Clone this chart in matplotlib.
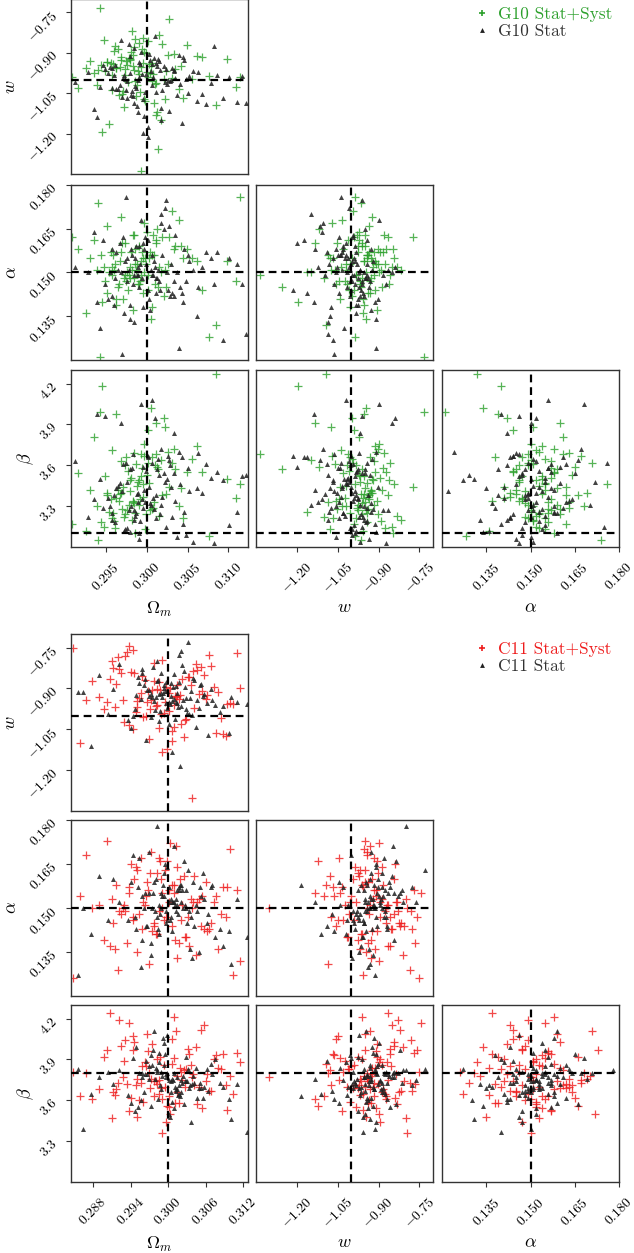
import matplotlib
matplotlib.use("Agg")
import matplotlib.pyplot as plt
from matplotlib.ticker import FixedLocator, FuncFormatter
from matplotlib.lines import Line2D
from matplotlib.transforms import ScaledTranslation

plt.rcParams['mathtext.fontset'] = 'cm'
plt.rcParams['font.family'] = ['cmr10', 'DejaVu Serif']
plt.rcParams['axes.unicode_minus'] = False

# ---------------- DATA ----------------
# G10 Stat+Syst
g10_sys_om = [0.2993, 0.2978, 0.3012, 0.2965, 0.3004, 0.2987, 0.2951, 0.3021, 0.2996, 0.2972,
              0.3035, 0.2983, 0.2958, 0.3008, 0.2991, 0.2944, 0.3017, 0.2969, 0.3001, 0.2986,
              0.3049, 0.2962, 0.2998, 0.2975, 0.3027, 0.2939, 0.3005, 0.2981, 0.2957, 0.3013,
              0.2995, 0.3062, 0.2970, 0.2989, 0.2948, 0.3031, 0.2979, 0.3009, 0.2963, 0.2999,
              0.2916, 0.3024, 0.2984, 0.2954, 0.3003, 0.3076, 0.2968, 0.2992, 0.2935, 0.3015,
              0.2977, 0.3042, 0.2960, 0.2997, 0.2985, 0.3098, 0.2945, 0.3006, 0.2973, 0.3019,
              0.2988, 0.2926, 0.3033, 0.2966, 0.3000, 0.2982, 0.3056, 0.2952, 0.3011, 0.2976,
              0.2994, 0.3109, 0.2941, 0.3026, 0.2971, 0.2990, 0.3002, 0.2959, 0.3085, 0.2980,
              0.2908, 0.3014, 0.2967, 0.2997, 0.3039, 0.2949, 0.2986, 0.3007, 0.2931, 0.3022,
              0.2974, 0.3068, 0.2956, 0.2993, 0.3114, 0.2961, 0.3010, 0.2983, 0.2943, 0.3045]
g10_sys_w = [-0.952, -0.918, -1.013, -0.887, -0.974, -1.061, -0.935, -0.998, -0.843, -1.102,
             -0.961, -0.907, -1.037, -0.979, -0.862, -0.944, -1.148, -0.925, -0.989, -1.005,
             -0.871, -0.958, -1.079, -0.931, -0.773, -1.021, -0.947, -0.896, -0.983, -1.118,
             -0.939, -0.912, -1.052, -0.968, -0.851, -0.993, -0.928, -1.087, -0.955, -0.901,
             -1.029, -0.966, -0.879, -1.164, -0.942, -0.986, -0.915, -1.046, -0.973, -0.834,
             -1.009, -0.949, -0.892, -1.071, -0.962, -0.924, -1.195, -0.937, -0.981, -0.866,
             -1.018, -0.956, -0.903, -1.058, -0.971, -0.819, -0.996, -0.933, -1.132, -0.946,
             -0.884, -1.025, -0.964, -0.909, -1.041, -0.977, -0.857, -0.941, -1.094, -0.921,
             -0.991, -1.256, -0.953, -0.897, -1.034, -0.969, -0.848, -1.003, -0.929, -1.073,
             -0.959, -0.914, -0.936, -1.337, -0.988, -0.875, -1.016, -0.948, -0.732, -1.066]
g10_sys_alpha = [0.154, 0.149, 0.161, 0.145, 0.157, 0.151, 0.166, 0.142, 0.155, 0.148,
                 0.159, 0.137, 0.152, 0.163, 0.146, 0.156, 0.150, 0.169, 0.144, 0.153,
                 0.158, 0.141, 0.155, 0.147, 0.162, 0.151, 0.134, 0.157, 0.149, 0.165,
                 0.143, 0.154, 0.160, 0.146, 0.152, 0.171, 0.148, 0.156, 0.139, 0.153,
                 0.158, 0.145, 0.163, 0.150, 0.155, 0.128, 0.157, 0.147, 0.161, 0.152,
                 0.144, 0.159, 0.151, 0.167, 0.148, 0.154, 0.140, 0.156, 0.149, 0.162,
                 0.153, 0.136, 0.158, 0.146, 0.164, 0.151, 0.155, 0.143, 0.160, 0.150,
                 0.157, 0.147, 0.174, 0.153, 0.141, 0.159, 0.149, 0.156, 0.132, 0.152,
                 0.162, 0.145, 0.154, 0.150, 0.168, 0.147, 0.158, 0.138, 0.155, 0.151,
                 0.160, 0.144, 0.157, 0.149, 0.176, 0.153, 0.146, 0.163, 0.121, 0.155]
g10_sys_beta = [3.52, 3.31, 3.68, 3.42, 3.27, 3.61, 3.38, 3.95, 3.46, 3.22,
                3.57, 3.34, 3.71, 3.29, 3.49, 3.18, 3.64, 3.40, 3.86, 3.25,
                3.55, 3.36, 3.13, 3.66, 3.44, 3.30, 4.02, 3.51, 3.21, 3.59,
                3.37, 3.74, 3.28, 3.48, 3.15, 3.62, 3.41, 3.33, 3.98, 3.24,
                3.54, 3.39, 3.69, 3.26, 3.47, 3.08, 3.63, 3.35, 3.81, 3.23,
                3.56, 3.43, 3.19, 3.67, 3.32, 3.50, 4.18, 3.28, 3.60, 3.38,
                3.45, 3.12, 3.72, 3.34, 3.53, 3.20, 3.65, 3.40, 3.91, 3.27,
                3.58, 3.36, 3.05, 3.70, 3.44, 3.31, 3.62, 3.25, 4.27, 3.49,
                3.17, 3.57, 3.39, 3.76, 3.30, 3.52, 3.10, 3.66, 3.42, 3.88,
                3.24, 3.55, 3.35, 3.68, 3.46, 3.14, 3.60, 3.33, 3.99, 3.21]

# G10 Stat
g10_stat_om = [0.3008, 0.2982, 0.3031, 0.2967, 0.3014, 0.2995, 0.3052, 0.2976, 0.3021, 0.2989,
               0.3063, 0.2958, 0.3003, 0.3037, 0.2971, 0.3011, 0.2984, 0.3079, 0.2949, 0.3017,
               0.2999, 0.3045, 0.2963, 0.3026, 0.2978, 0.3094, 0.2991, 0.3006, 0.2935, 0.3033,
               0.2986, 0.3015, 0.3068, 0.2972, 0.3002, 0.2955, 0.3041, 0.2993, 0.3110, 0.2979,
               0.3019, 0.2961, 0.3028, 0.2997, 0.3057, 0.2943, 0.3009, 0.2983, 0.3035, 0.2969,
               0.3012, 0.3086, 0.2988, 0.3024, 0.2912, 0.3004, 0.2976, 0.3048, 0.2996, 0.3016,
               0.2965, 0.3039, 0.2981, 0.3117, 0.2992, 0.3027, 0.2953, 0.3007, 0.2985, 0.3061,
               0.2974, 0.3013, 0.2998, 0.3043, 0.2928, 0.3022, 0.2990, 0.3072, 0.2960, 0.3010,
               0.2987, 0.3034, 0.2970, 0.3101, 0.3001, 0.2946, 0.3025, 0.2980, 0.3050, 0.2994,
               0.3018, 0.2957, 0.3030, 0.3082, 0.2975, 0.3005, 0.2939, 0.3046, 0.3122, 0.2989]
g10_stat_w = [-0.991, -1.042, -0.957, -1.018, -0.924, -1.073, -0.985, -1.006, -0.948, -1.121,
              -0.972, -1.031, -0.903, -1.058, -0.995, -0.937, -1.087, -1.012, -0.961, -1.149,
              -0.979, -0.914, -1.036, -1.001, -0.866, -1.066, -0.988, -0.942, -1.109, -0.969,
              -1.024, -0.931, -1.052, -0.983, -1.175, -0.953, -1.014, -0.897, -1.081, -0.976,
              -1.039, -0.945, -1.003, -1.133, -0.967, -1.027, -0.919, -1.062, -0.993, -0.851,
              -1.047, -0.981, -1.096, -0.959, -1.010, -0.928, -1.069, -0.998, -1.198, -0.964,
              -1.033, -0.908, -1.055, -0.986, -0.941, -1.116, -0.974, -1.020, -0.882, -1.077,
              -0.996, -0.950, -1.044, -1.161, -0.970, -1.008, -0.935, -1.091, -0.982, -0.838,
              -1.029, -0.962, -1.064, -0.989, -1.214, -0.944, -1.017, -0.911, -1.050, -0.977,
              -1.104, -0.955, -1.002, -0.873, -1.038, -0.968, -1.138, -0.926, -1.085, -0.999]
g10_stat_alpha = [0.149, 0.156, 0.143, 0.160, 0.151, 0.138, 0.154, 0.147, 0.165, 0.152,
                  0.145, 0.158, 0.141, 0.150, 0.162, 0.148, 0.133, 0.155, 0.146, 0.170,
                  0.153, 0.140, 0.157, 0.144, 0.151, 0.127, 0.159, 0.149, 0.164, 0.142,
                  0.155, 0.147, 0.152, 0.136, 0.161, 0.150, 0.145, 0.168, 0.153, 0.139,
                  0.156, 0.148, 0.142, 0.158, 0.151, 0.131, 0.154, 0.146, 0.163, 0.150,
                  0.143, 0.157, 0.149, 0.175, 0.152, 0.137, 0.155, 0.147, 0.160, 0.144,
                  0.151, 0.124, 0.158, 0.146, 0.153, 0.166, 0.141, 0.156, 0.149, 0.135,
                  0.154, 0.148, 0.162, 0.143, 0.150, 0.172, 0.145, 0.157, 0.139, 0.152,
                  0.159, 0.147, 0.122, 0.155, 0.144, 0.161, 0.150, 0.134, 0.156, 0.148,
                  0.167, 0.142, 0.153, 0.146, 0.176, 0.151, 0.140, 0.158, 0.129, 0.149]
g10_stat_beta = [3.36, 3.58, 3.22, 3.47, 3.65, 3.29, 3.41, 3.14, 3.54, 3.33,
                 3.69, 3.25, 3.44, 3.07, 3.61, 3.38, 3.20, 3.51, 3.96, 3.31,
                 3.56, 3.17, 3.43, 3.67, 3.27, 3.49, 3.10, 3.62, 3.35, 3.84,
                 3.23, 3.53, 3.40, 3.12, 3.66, 3.30, 3.46, 4.05, 3.26, 3.57,
                 3.37, 3.18, 3.60, 3.42, 3.04, 3.50, 3.28, 3.68, 3.34, 3.91,
                 3.21, 3.55, 3.39, 3.15, 3.63, 3.32, 3.48, 3.09, 3.59, 3.24,
                 3.45, 3.70, 3.30, 3.52, 3.19, 3.64, 3.36, 4.08, 3.27, 3.43,
                 3.13, 3.57, 3.33, 3.66, 3.22, 3.48, 3.06, 3.61, 3.38, 3.95,
                 3.25, 3.54, 3.41, 3.16, 3.67, 3.29, 3.50, 3.11, 3.58, 3.35,
                 3.72, 3.20, 3.44, 3.03, 3.62, 3.31, 3.98, 3.26, 3.53, 3.40]

# C11 Stat+Syst
c11_sys_om = [0.3002, 0.2958, 0.3041, 0.2931, 0.3017, 0.2986, 0.3073, 0.2912, 0.3009, 0.2969,
              0.3055, 0.2944, 0.2995, 0.3029, 0.2878, 0.3012, 0.2977, 0.3088, 0.2951, 0.3036,
              0.2989, 0.2925, 0.3063, 0.2998, 0.2963, 0.3104, 0.2937, 0.3021, 0.2982, 0.2897,
              0.3047, 0.2972, 0.3006, 0.2916, 0.3080, 0.2991, 0.2948, 0.3032, 0.2859, 0.3014,
              0.2966, 0.3069, 0.2929, 0.3003, 0.2980, 0.3111, 0.2954, 0.3025, 0.2907, 0.3050,
              0.2993, 0.2940, 0.3038, 0.2974, 0.3094, 0.2919, 0.3010, 0.2985, 0.2868, 0.3058,
              0.2960, 0.3019, 0.2934, 0.3077, 0.2996, 0.2950, 0.3044, 0.2889, 0.3007, 0.2978,
              0.3099, 0.2922, 0.3027, 0.2968, 0.3001, 0.2847, 0.3061, 0.2943, 0.3015, 0.2983,
              0.2910, 0.3085, 0.2957, 0.3034, 0.2990, 0.2928, 0.3052, 0.2971, 0.3115, 0.2938,
              0.3023, 0.2902, 0.3066, 0.2964, 0.3011, 0.2946, 0.3092, 0.2987, 0.2915, 0.3040]
c11_sys_w = [-0.917, -0.853, -0.972, -0.781, -0.939, -1.046, -0.893, -0.826, -0.962, -1.087,
             -0.908, -0.759, -0.951, -1.012, -0.874, -0.932, -0.807, -1.068, -0.946, -0.889,
             -0.995, -0.843, -0.925, -1.121, -0.868, -0.956, -0.744, -1.031, -0.902, -0.977,
             -0.832, -0.941, -1.058, -0.882, -0.913, -0.795, -0.986, -0.859, -1.102, -0.928,
             -0.948, -0.817, -1.024, -0.897, -0.965, -0.771, -0.935, -1.079, -0.864, -0.920,
             -0.990, -0.838, -1.301, -0.906, -0.958, -0.786, -1.040, -0.878, -0.944, -0.849,
             -1.004, -0.923, -0.765, -1.063, -0.894, -0.969, -0.812, -0.930, -1.093, -0.871,
             -0.953, -0.827, -1.017, -0.911, -0.981, -0.752, -0.937, -1.050, -0.886, -0.960,
             -0.799, -1.009, -0.915, -0.857, -1.135, -0.942, -0.821, -0.975, -0.899, -1.036,
             -0.866, -0.950, -0.778, -1.002, -0.926, -0.845, -1.073, -0.904, -0.967, -0.835]
c11_sys_alpha = [0.156, 0.143, 0.161, 0.149, 0.138, 0.167, 0.152, 0.145, 0.158, 0.131,
                 0.154, 0.147, 0.163, 0.140, 0.150, 0.171, 0.144, 0.157, 0.135, 0.153,
                 0.160, 0.148, 0.142, 0.166, 0.151, 0.127, 0.155, 0.146, 0.162, 0.139,
                 0.152, 0.169, 0.144, 0.158, 0.136, 0.150, 0.164, 0.147, 0.154, 0.133,
                 0.159, 0.145, 0.151, 0.172, 0.141, 0.156, 0.148, 0.161, 0.137, 0.153,
                 0.146, 0.165, 0.150, 0.142, 0.157, 0.129, 0.155, 0.149, 0.168, 0.143,
                 0.152, 0.160, 0.138, 0.154, 0.147, 0.163, 0.134, 0.151, 0.158, 0.145,
                 0.170, 0.149, 0.140, 0.156, 0.152, 0.126, 0.159, 0.146, 0.164, 0.141,
                 0.153, 0.148, 0.167, 0.137, 0.155, 0.150, 0.144, 0.162, 0.132, 0.157,
                 0.151, 0.173, 0.143, 0.154, 0.139, 0.160, 0.147, 0.166, 0.136, 0.152]
c11_sys_beta = [3.63, 3.85, 3.71, 4.04, 3.58, 3.75, 3.90, 3.66, 4.21, 3.80,
                3.54, 3.97, 3.70, 3.83, 3.61, 4.11, 3.74, 3.94, 3.48, 3.86,
                3.69, 4.00, 3.79, 3.56, 3.88, 3.65, 4.17, 3.81, 3.72, 3.92,
                3.57, 3.76, 4.05, 3.68, 3.84, 3.36, 3.71, 3.98, 3.63, 3.78,
                4.09, 3.67, 3.89, 3.50, 3.74, 3.95, 3.60, 3.82, 4.24, 3.70,
                3.86, 3.62, 3.77, 4.01, 3.53, 3.73, 3.91, 3.65, 3.80, 4.15,
                3.59, 3.84, 3.72, 3.93, 3.44, 3.76, 3.99, 3.68, 3.87, 3.63,
                3.78, 4.19, 3.70, 3.96, 3.55, 3.81, 3.74, 4.07, 3.66, 3.90,
                3.47, 3.83, 3.73, 3.94, 3.61, 3.77, 4.12, 3.69, 3.88, 3.52,
                3.75, 3.97, 3.67, 3.85, 3.58, 4.03, 3.71, 3.92, 3.64, 3.79]

# C11 Stat
c11_stat_om = [0.3005, 0.2983, 0.3021, 0.2967, 0.3011, 0.2994, 0.3046, 0.2958, 0.3029, 0.2988,
               0.3062, 0.2941, 0.3008, 0.3035, 0.2976, 0.3016, 0.2999, 0.3083, 0.2952, 0.3024,
               0.2985, 0.3053, 0.2970, 0.3003, 0.2921, 0.3039, 0.2992, 0.3013, 0.2963, 0.3097,
               0.2980, 0.3027, 0.2947, 0.3009, 0.3058, 0.2973, 0.3018, 0.2996, 0.2864, 0.3032,
               0.2987, 0.3069, 0.2956, 0.3006, 0.3042, 0.2978, 0.3014, 0.2903, 0.3026, 0.2990,
               0.3075, 0.2961, 0.3001, 0.3037, 0.2982, 0.3110, 0.2949, 0.3019, 0.2997, 0.3049,
               0.2969, 0.3010, 0.2889, 0.3031, 0.2986, 0.3064, 0.2954, 0.3007, 0.3023, 0.2975,
               0.3088, 0.2993, 0.2935, 0.3040, 0.3002, 0.2855, 0.3017, 0.2979, 0.3056, 0.2964,
               0.3012, 0.3127, 0.2989, 0.3028, 0.2944, 0.3004, 0.3071, 0.2972, 0.3020, 0.2998,
               0.2912, 0.3044, 0.2984, 0.3015, 0.3101, 0.2959, 0.3033, 0.2995, 0.2877, 0.3051]
c11_stat_w = [-0.928, -0.871, -0.963, -0.904, -1.012, -0.889, -0.944, -0.842, -0.977, -0.915,
              -0.952, -1.047, -0.896, -0.935, -0.823, -0.969, -0.908, -0.986, -0.858, -0.941,
              -1.021, -0.883, -0.926, -0.957, -0.811, -0.998, -0.917, -0.948, -0.866, -1.063,
              -0.932, -0.894, -0.974, -0.848, -0.921, -1.005, -0.877, -0.955, -0.912, -0.731,
              -0.983, -0.901, -0.939, -1.134, -0.869, -0.946, -0.918, -0.993, -0.836, -0.930,
              -0.962, -0.886, -1.031, -0.911, -0.799, -0.951, -0.924, -1.186, -0.875, -0.970,
              -0.907, -0.938, -0.852, -0.989, -0.920, -1.071, -0.881, -0.945, -0.815, -0.933,
              -0.966, -0.898, -1.016, -0.862, -0.949, -0.913, -0.776, -0.980, -0.927, -1.089,
              -0.892, -0.958, -0.845, -0.936, -1.002, -0.879, -0.942, -0.919, -0.764, -0.972,
              -0.903, -1.041, -0.868, -0.954, -0.931, -0.827, -0.995, -0.910, -1.112, -0.887]
c11_stat_alpha = [0.153, 0.147, 0.158, 0.144, 0.151, 0.162, 0.149, 0.139, 0.156, 0.150,
                  0.145, 0.159, 0.152, 0.136, 0.155, 0.148, 0.164, 0.143, 0.157, 0.150,
                  0.141, 0.154, 0.169, 0.146, 0.152, 0.133, 0.158, 0.149, 0.155, 0.142,
                  0.160, 0.151, 0.147, 0.171, 0.153, 0.138, 0.156, 0.145, 0.150, 0.163,
                  0.148, 0.157, 0.130, 0.152, 0.144, 0.159, 0.151, 0.146, 0.166, 0.154,
                  0.140, 0.150, 0.157, 0.147, 0.178, 0.153, 0.143, 0.158, 0.149, 0.135,
                  0.155, 0.152, 0.161, 0.145, 0.151, 0.148, 0.167, 0.142, 0.156, 0.150,
                  0.137, 0.154, 0.146, 0.159, 0.152, 0.127, 0.157, 0.149, 0.162, 0.144,
                  0.153, 0.140, 0.155, 0.150, 0.168, 0.147, 0.158, 0.134, 0.152, 0.146,
                  0.160, 0.151, 0.143, 0.156, 0.131, 0.154, 0.149, 0.165, 0.141, 0.157]
c11_stat_beta = [3.74, 3.81, 3.66, 3.79, 3.70, 3.86, 3.62, 3.77, 3.92, 3.68,
                 3.83, 3.58, 3.75, 3.71, 3.97, 3.64, 3.80, 3.73, 3.55, 3.78,
                 3.88, 3.69, 3.76, 3.48, 3.82, 3.72, 4.06, 3.67, 3.79, 3.61,
                 3.84, 3.74, 3.52, 3.80, 3.70, 3.93, 3.65, 3.77, 3.39, 3.83,
                 3.71, 3.87, 3.60, 3.76, 3.73, 4.11, 3.68, 3.81, 3.57, 3.78,
                 3.90, 3.66, 3.75, 3.44, 3.82, 3.72, 3.99, 3.63, 3.79, 3.69,
                 3.85, 3.54, 3.77, 3.74, 3.95, 3.67, 3.80, 3.59, 3.73, 3.86,
                 3.70, 4.02, 3.64, 3.78, 3.50, 3.83, 3.71, 3.76, 3.62, 3.89,
                 3.68, 3.37, 3.81, 3.74, 3.91, 3.66, 3.79, 3.56, 3.75, 4.08,
                 3.72, 3.84, 3.61, 3.77, 3.46, 3.80, 3.69, 3.94, 3.65, 3.73]

param_labels = [r'$\Omega_m$', r'$w$', r'$\alpha$', r'$\beta$']
g10_truth = [0.300, -1.0, 0.150, 3.1]
c11_truth = [0.300, -1.0, 0.150, 3.8]
g10_ticks = [[0.295, 0.300, 0.305, 0.310], [-1.20, -1.05, -0.90, -0.75],
             [0.135, 0.150, 0.165, 0.180], [3.3, 3.6, 3.9, 4.2]]
c11_ticks = [[0.288, 0.294, 0.300, 0.306, 0.312], [-1.20, -1.05, -0.90, -0.75],
             [0.135, 0.150, 0.165, 0.180], [3.3, 3.6, 3.9, 4.2]]
g10_ranges = [(0.2907, 0.3124), (-1.35, -0.70), (0.120, 0.180), (3.0, 4.3)]
c11_ranges = [(0.2844, 0.3128), (-1.35, -0.70), (0.120, 0.180), (3.0, 4.3)]
decimals = [3, 2, 3, 1]
g10_labels = ['G10 Stat+Syst', 'G10 Stat']
c11_labels = ['C11 Stat+Syst', 'C11 Stat']

# ---------------- STYLE ----------------
W, H = 634, 1253
GREEN = '#2ca02c'
RED = '#ee1c1c'
DARK = '#222222'
SPINE = '#333333'

fig = plt.figure(figsize=(W / 100, H / 100), dpi=100)

cols_px = [(70.7, 248.0), (256.0, 433.0), (442.0, 619.0)]
rows_top = [(-1.0, 174.0), (185.0, 360.0), (370.0, 547.0)]
rows_bot = [(634.0, 811.0), (820.0, 996.0), (1005.0, 1182.0)]
ylabel_x = [None, -0.30, -0.29, -0.195]


def rect(c, r):
    x0, x1 = c
    y0, y1 = r
    return [x0 / W, 1 - y1 / H, (x1 - x0) / W, (y1 - y0) / H]


def fmt(d):
    return FuncFormatter(lambda v, p: '$%.*f$' % (d, v))


def corner(rows, sys_data, stat_data, truth, ticks, ranges, col_sys, labels, leg_y):
    for i in range(1, 4):          # row param
        for j in range(0, i):      # column param
            ax = fig.add_axes(rect(cols_px[j], rows[i - 1]))
            ax.scatter(sys_data[j], sys_data[i], marker='+', s=38, c=col_sys,
                       alpha=0.8, linewidths=0.9, zorder=2)
            ax.scatter(stat_data[j], stat_data[i], marker='^', s=13, c=DARK,
                       alpha=0.85, linewidths=0, zorder=3)
            ax.axvline(truth[j], color='k', ls=(0, (3.5, 2.2)), lw=1.6, zorder=4)
            ax.axhline(truth[i], color='k', ls=(0, (3.5, 2.2)), lw=1.6, zorder=4)
            ax.set_xlim(*ranges[j])
            ax.set_ylim(*ranges[i])
            for s in ax.spines.values():
                s.set_color(SPINE)
                s.set_linewidth(1.0)
            ax.tick_params(direction='out', length=3.5, width=0.8, color=SPINE,
                           labelsize=10)
            ax.tick_params(axis='x', pad=6)
            ax.tick_params(axis='y', pad=4)
            if i == 3:
                ax.xaxis.set_major_locator(FixedLocator(ticks[j]))
                ax.xaxis.set_major_formatter(fmt(decimals[j]))
                for t in ax.get_xticklabels():
                    t.set_rotation(45)
                ax.set_xlabel(param_labels[j], fontsize=13)
                ax.xaxis.set_label_coords(0.5, -0.3)
            else:
                ax.set_xticks([])
            if j == 0:
                ax.yaxis.set_major_locator(FixedLocator(ticks[i]))
                ax.yaxis.set_major_formatter(fmt(decimals[i]))
                shift = ScaledTranslation(0, 4 / 100, fig.dpi_scale_trans)
                for tk in ax.yaxis.get_major_ticks():
                    lab = tk.label1
                    lab.set_rotation(45)
                    lab.set_va('top')
                    lab.set_ha('right')
                    lab.set_transform(lab.get_transform() + shift)
                ax.set_ylabel(param_labels[i], fontsize=13)
                ax.yaxis.set_label_coords(ylabel_x[i], 0.5)
            else:
                ax.set_yticks([])
    handles = [Line2D([], [], ls='none', marker='+', ms=5, mew=1.2, color=col_sys),
               Line2D([], [], ls='none', marker='^', ms=3.5, mew=0, color=DARK)]
    leg = fig.legend(handles, labels, loc='upper left',
                     bbox_to_anchor=(474 / W, 1 - leg_y / H), frameon=False,
                     fontsize=12.5, handlelength=0.9, handletextpad=0.5,
                     labelspacing=0.1, borderpad=0, borderaxespad=0)
    leg.get_texts()[0].set_color(col_sys)
    leg.get_texts()[1].set_color('#333333')


corner(rows_top,
       [g10_sys_om, g10_sys_w, g10_sys_alpha, g10_sys_beta],
       [g10_stat_om, g10_stat_w, g10_stat_alpha, g10_stat_beta],
       g10_truth, g10_ticks, g10_ranges, GREEN, g10_labels, 7)
corner(rows_bot,
       [c11_sys_om, c11_sys_w, c11_sys_alpha, c11_sys_beta],
       [c11_stat_om, c11_stat_w, c11_stat_alpha, c11_stat_beta],
       c11_truth, c11_ticks, c11_ranges, RED, c11_labels, 642)

fig.savefig('out.png', dpi=100)
